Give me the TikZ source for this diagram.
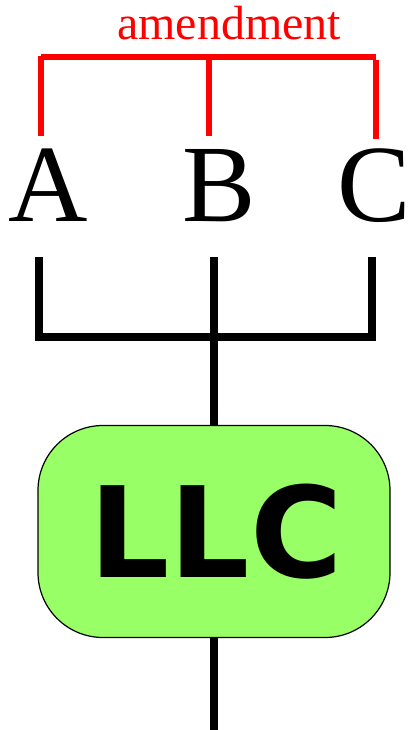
\documentclass[tikz,border=0pt]{standalone}
\usepackage{fontspec}
\setmainfont{Liberation Serif}
\newfontfamily\llcfont{DejaVu Sans}
\definecolor{llcgreen}{HTML}{99FF66}
\begin{document}
\begin{tikzpicture}[x=1pt,y=-1pt,
  redline/.style={draw=red,line width=6pt},
  blackline/.style={draw=black,line width=8pt},
  letter/.style={anchor=base,inner sep=0pt,font=\fontsize{110}{110}\selectfont},
  llcbox/.style={draw=black,line width=1.2pt,fill=llcgreen,rounded corners=65pt,
    minimum width=352pt,minimum height=212pt,inner sep=0pt,
    font=\llcfont\bfseries\fontsize{126}{126}\selectfont}]
\useasboundingbox (0,0) rectangle (412,730);

% label of the red bracket
\node[anchor=base,inner sep=0pt,text=red,font=\fontsize{48}{48}\selectfont] (amend) at (229,40) {amendment};

% the three letters
\node[letter] (A) at (48,221) {A};
\node[letter] (B) at (219,221) {B};
\node[letter] (C) at (374,221) {C};

% red bracket over the letters
\coordinate (rL) at (41,57);
\coordinate (rR) at (376,57);
\coordinate (rLt) at (41,56);
\coordinate (rLb) at (41,136);
\coordinate (rMt) at (208.5,57);
\coordinate (rMb) at (208.5,136);
\coordinate (rRt) at (376,60);
\coordinate (rRb) at (376,139);
\draw[redline] (rL) -- (rR);
\draw[redline] (rLt) -- (rLb);
\draw[redline] (rMt) -- (rMb);
\draw[redline] (rRt) -- (rRb);

% LLC box
\node[llcbox] (llc) at (214,531.5) {\hspace*{4pt}\raisebox{-3pt}{LLC}};

% black bracket joining the letters to the box
\coordinate (bLt) at (39,257);
\coordinate (bLb) at (39,341);
\coordinate (bMt) at (214,257);
\coordinate (bRt) at (372,257);
\coordinate (bRb) at (372,341);
\coordinate (bHl) at (39,337);
\coordinate (bHr) at (374,337);
\draw[blackline] (bLt) -- (bLb);
\draw[blackline] (bRt) -- (bRb);
\draw[blackline] (bHl) -- (bHr);
\draw[blackline] (bMt) -- (llc.north);

% line leaving the box downwards
\coordinate (out) at (214,730);
\draw[blackline] (llc.south) -- (out);
\end{tikzpicture}
\end{document}
